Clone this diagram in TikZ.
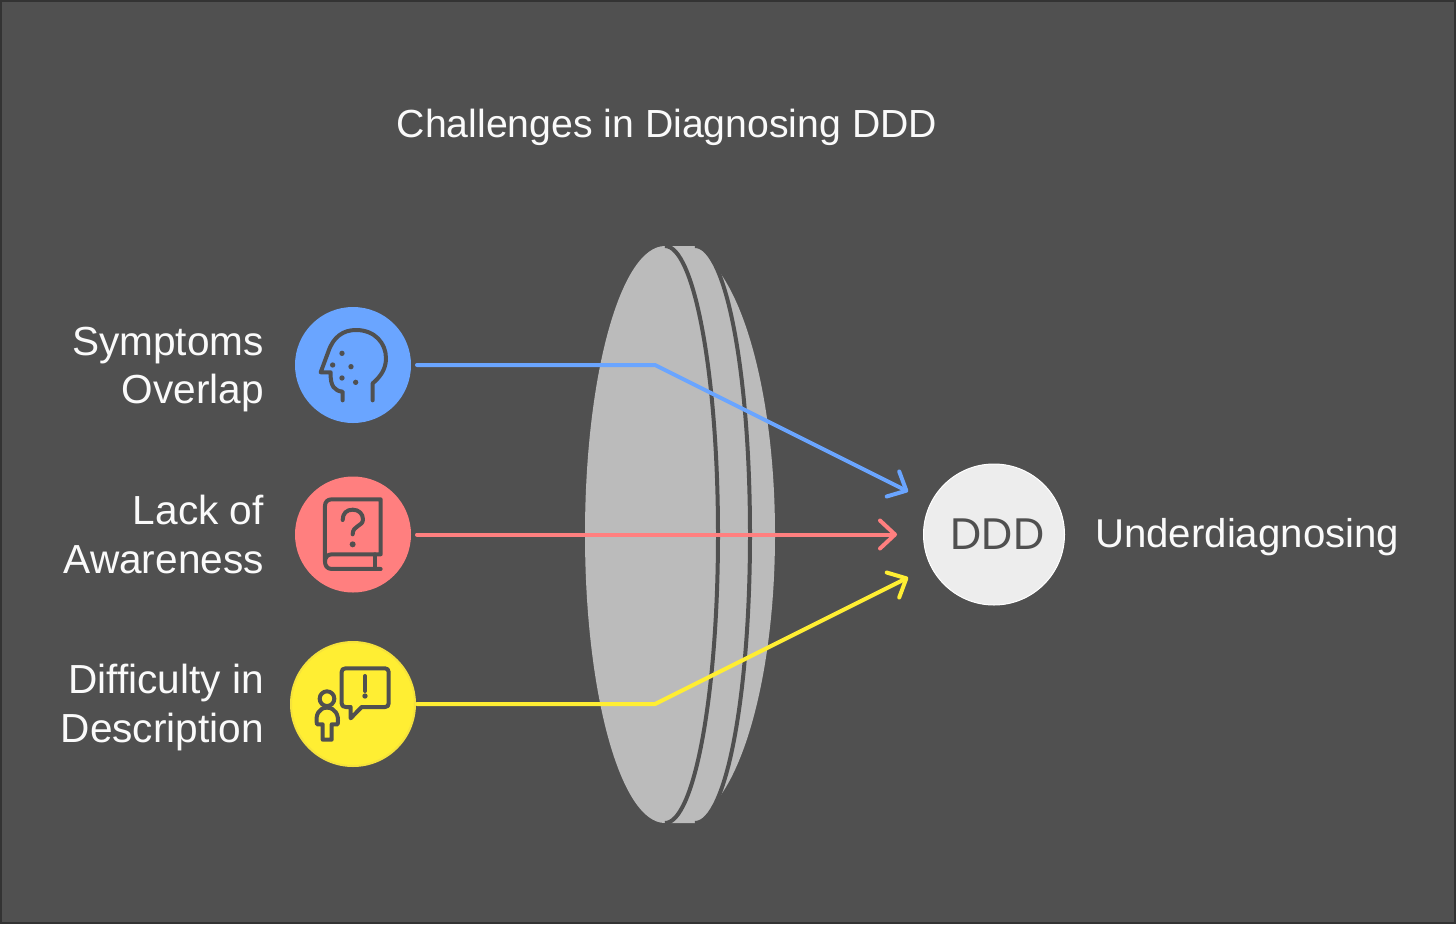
\documentclass[tikz,border=0pt]{standalone}
\usepackage{fontspec}
\setmainfont{Liberation Sans}
\newfontfamily\dddfont{Poppins}
\usetikzlibrary{arrows.meta,calc}
\definecolor{bgc}{HTML}{505050}
\definecolor{edgec}{HTML}{333333}
\definecolor{lensc}{HTML}{BBBBBB}
\definecolor{bluec}{HTML}{6AA5FF}
\definecolor{redc}{HTML}{FF7F7F}
\definecolor{yelc}{HTML}{FFEE33}
\definecolor{yeledge}{HTML}{F5E23C}
\definecolor{txtc}{HTML}{FAFAFA}
\definecolor{dddc}{HTML}{EDEDED}
\tikzset{
  lbl/.style={text=txtc,inner sep=0pt,font=\fontsize{40.6}{48.5}\selectfont,align=right,anchor=east},
  iconc/.style={circle,minimum size=116pt,inner sep=0pt,outer sep=6pt},
  conn/.style={line width=4pt,line join=round,line cap=round},
  tip/.style={-{Straight Barb[length=15pt,width=28pt,line width=4pt,round]}},
  ico/.style={draw=bgc,line width=4pt,line cap=round,line join=round},
  lensline/.style={draw=bgc,line width=4pt}
}
\begin{document}
\begin{tikzpicture}[x=1pt,y=-1pt]
\useasboundingbox (0,0) rectangle (1456,924);
\fill[edgec] (0,0) rectangle (1456,924);
\fill[bgc] (2,2) rectangle (1454,922);
% title
\node[text=txtc,inner sep=0pt,font=\fontsize{39.2}{48}\selectfont] (title) at (667,127) {Challenges in Diagnosing DDD};
% lens
\fill[lensc] (680,246) .. controls (732.5,246) and (775,375.2) .. (775,534.5) .. controls (775,693.8) and (732.5,823) .. (680,823) -- cycle;
\begin{scope}
\clip (570,246) rectangle (800,823);
\fill[lensc] (670,246) -- (695,246) .. controls (725.4,246) and (748,375.2) .. (748,534.5) .. controls (748,693.8) and (725.4,823) .. (695,823) -- (670,823) -- cycle;
\draw[lensline] (695,246) .. controls (726.5,246) and (750,375.2) .. (750,534.5) .. controls (750,693.8) and (726.5,823) .. (695,823);
\fill[lensc] (665,246) .. controls (620.8,246) and (585,375.2) .. (585,534.5) .. controls (585,693.8) and (620.8,823) .. (665,823) -- cycle;
\fill[lensc] (665,246) .. controls (694.3,246) and (718,375.2) .. (718,534.5) .. controls (718,693.8) and (694.3,823) .. (665,823) -- cycle;
\draw[lensline] (665,246) .. controls (694.3,246) and (718,375.2) .. (718,534.5) .. controls (718,693.8) and (694.3,823) .. (665,823);
\end{scope}
% nodes
\node[iconc,fill=bluec] (sym) at (353,365) {};
\node[iconc,fill=redc] (aware) at (353,534.5) {};
\node[iconc,fill=yelc,draw=yeledge,line width=2pt,minimum size=124pt,outer sep=2pt] (diff) at (353,704) {};
\node[circle,fill=dddc,draw=white,line width=1pt,minimum size=141pt,inner sep=0pt] (ddd) at (994,534.5) {};
\node[text=bgc,inner sep=0pt,font=\dddfont\fontsize{44}{44}\selectfont] (dddt) at (997.5,534.5) {DDD};
\node[lbl] (l1) at (264,369.5) {Symptoms\\Overlap};
\node[lbl] (l2) at (264,534.5) {Lack of\\Awareness};
\node[lbl] (l3) at (264,707.5) {Difficulty in\\Description};
\node[text=txtc,inner sep=0pt,font=\fontsize{40.2}{48}\selectfont,anchor=west] (under) at (1095,537.5) {Underdiagnosing};
% connectors
\coordinate (b1) at (655,365);
\coordinate (b3) at (655,704);
\draw[conn,bluec,tip,shorten >=96pt] (sym.east) -- (b1) -- (ddd.center);
\draw[conn,redc,tip,shorten >=97pt] (aware.east) -- (ddd.center);
\draw[conn,yelc,tip,shorten >=96pt] (diff.east) -- (b3) -- (ddd.center);
% head icon
\begin{scope}[shift={(280,295)},x=.3333pt,y=-.3333pt]
\draw[ico] (188,316) -- (188,290) .. controls (165,288) and (150,275) .. (152,232) -- (122,232) -- (145,170) .. controls (160,125) and (190,105) .. (228,105) .. controls (285,105) and (318,145) .. (318,190) .. controls (318,225) and (298,248) .. (278,265) -- (278,316);
\foreach \p in {(186,175),(158,210),(213,215),(186,249),(227,262)} \fill[bgc] \p circle[radius=8];
\end{scope}
% book icon
\begin{scope}[shift={(280,465)},x=.3333pt,y=-.3333pt]
\draw[ico] (302,312) -- (155,312) .. controls (140,312) and (135,300) .. (135,290) .. controls (135,278) and (142,268) .. (155,268) -- (302,268) -- (302,103) -- (155,103) .. controls (142,103) and (135,112) .. (135,122) -- (135,290);
\draw[ico] (285,268) -- (285,312);
\draw[ico] (188,165) .. controls (188,145) and (200,134) .. (218,134) .. controls (236,134) and (249,146) .. (249,163) .. controls (249,185) and (218,180) .. (218,208);
\fill[bgc] (218,238) circle[radius=9];
\end{scope}
% person and speech icon
\begin{scope}[shift={(280,635)},x=.3333pt,y=-.3333pt]
\draw[ico] (197,100) -- (315,100) .. controls (322,100) and (326,104) .. (326,111) -- (326,205) .. controls (326,212) and (322,216) .. (315,216) -- (245,216) -- (212,250) -- (212,216) -- (197,216) .. controls (189,216) and (185,212) .. (185,205) -- (185,111) .. controls (185,104) and (189,100) .. (197,100) -- cycle;
\draw[ico] (255,123) -- (255,168);
\fill[bgc] (255,183) circle[radius=8];
\draw[ico] (141,191) circle[radius=22];
\draw[ico] (128,314) -- (155,314) -- (155,268) -- (173,268) .. controls (178,240) and (165,218) .. (141,218) .. controls (117,218) and (105,240) .. (111,268) -- (128,268) -- cycle;
\end{scope}
\end{tikzpicture}
\end{document}
